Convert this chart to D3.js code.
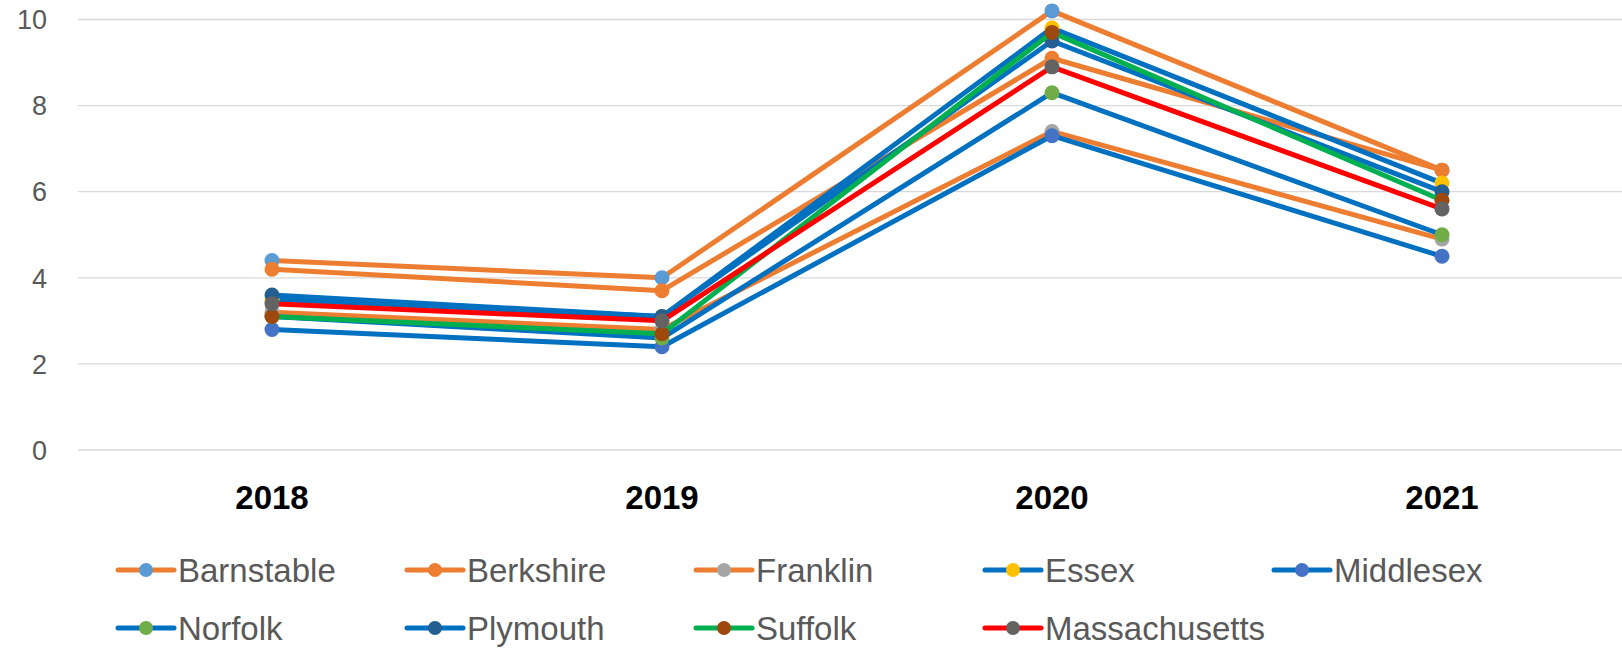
<!DOCTYPE html>
<html>
<head>
<meta charset="utf-8">
<script src="https://cdn.jsdelivr.net/npm/d3@7"></script>
<style>
    body { margin: 0; background: #fff; }
    svg { display: block; font-family: "Liberation Sans", Arial, sans-serif; }
</style>
</head>
<body>
<svg id="chart"></svg>
<script>
// data
const years = ["2018", "2019", "2020", "2021"];
const yTicks = [0, 2, 4, 6, 8, 10];

const barnstable    = [4.4, 4.0, 10.2, 6.5];
const berkshire     = [4.2, 3.7, 9.1, 6.5];
const franklin      = [3.2, 2.8, 7.4, 4.9];
const essex         = [3.5, 3.1, 9.8, 6.2];
const middlesex     = [2.8, 2.4, 7.3, 4.5];
const norfolk       = [3.1, 2.6, 8.3, 5.0];
const plymouth      = [3.6, 3.1, 9.5, 6.0];
const suffolk       = [3.1, 2.7, 9.7, 5.8];
const massachusetts = [3.4, 3.0, 8.9, 5.6];

const names = ["Barnstable", "Berkshire", "Franklin", "Essex", "Middlesex",
               "Norfolk", "Plymouth", "Suffolk", "Massachusetts"];
const values = [barnstable, berkshire, franklin, essex, middlesex,
                norfolk, plymouth, suffolk, massachusetts];

// styles: line colour, marker colour
const lineColors = ["#ED7D31", "#ED7D31", "#ED7D31", "#0070C0", "#0070C0",
                    "#0070C0", "#0070C0", "#00B050", "#FF0000"];
const markerColors = ["#5B9BD5", "#ED7D31", "#A5A5A5", "#FFC000", "#4472C4",
                      "#70AD47", "#255E91", "#9E480E", "#636363"];

const width = 1622, height = 649;
const svg = d3.select("#chart").attr("width", width).attr("height", height);

const x = d3.scalePoint()
    .domain(years)
    .range([77, 1637])
    .padding(0.5);

const y = d3.scaleLinear()
    .domain([0, 10])
    .range([450, 19.5]);

// gridlines
svg.append("g")
    .selectAll("line")
    .data(yTicks)
    .join("line")
    .attr("x1", 78)
    .attr("x2", width)
    .attr("y1", d => y(d))
    .attr("y2", d => y(d))
    .attr("stroke", "#D9D9D9")
    .attr("stroke-width", 1.3);

// y labels
svg.append("g")
    .selectAll("text")
    .data(yTicks)
    .join("text")
    .attr("x", 47)
    .attr("y", d => y(d))
    .attr("dy", "0.36em")
    .attr("text-anchor", "end")
    .attr("font-size", 27)
    .attr("fill", "#595959")
    .text(d => d);

// x labels
svg.append("g")
    .selectAll("text")
    .data(years)
    .join("text")
    .attr("x", d => x(d))
    .attr("y", 509)
    .attr("text-anchor", "middle")
    .attr("font-size", 33)
    .attr("font-weight", "bold")
    .attr("fill", "#000")
    .text(d => d);

const line = d3.line()
    .x((d, i) => x(years[i]))
    .y(d => y(d));

// series, drawn in order so later ones sit on top
values.forEach((vals, s) => {
    const g = svg.append("g");
    g.append("path")
        .datum(vals)
        .attr("d", line)
        .attr("fill", "none")
        .attr("stroke", lineColors[s])
        .attr("stroke-width", 5)
        .attr("stroke-linejoin", "round");
    g.selectAll("circle")
        .data(vals)
        .join("circle")
        .attr("cx", (d, i) => x(years[i]))
        .attr("cy", d => y(d))
        .attr("r", 7.5)
        .attr("fill", markerColors[s]);
});

// legend, 5 items per row
const legend = svg.append("g");
names.forEach((name, i) => {
    const lx = 118 + (i % 5) * 289;
    const ly = 570 + Math.floor(i / 5) * 58;
    const item = legend.append("g").attr("transform", `translate(${lx},${ly})`);
    item.append("line")
        .attr("x1", 0).attr("x2", 56)
        .attr("stroke", lineColors[i])
        .attr("stroke-width", 5)
        .attr("stroke-linecap", "round");
    item.append("circle")
        .attr("cx", 28)
        .attr("r", 7)
        .attr("fill", markerColors[i]);
    item.append("text")
        .attr("x", 60)
        .attr("dy", "0.36em")
        .attr("font-size", 33)
        .attr("fill", "#595959")
        .text(name);
});
</script>
</body>
</html>
